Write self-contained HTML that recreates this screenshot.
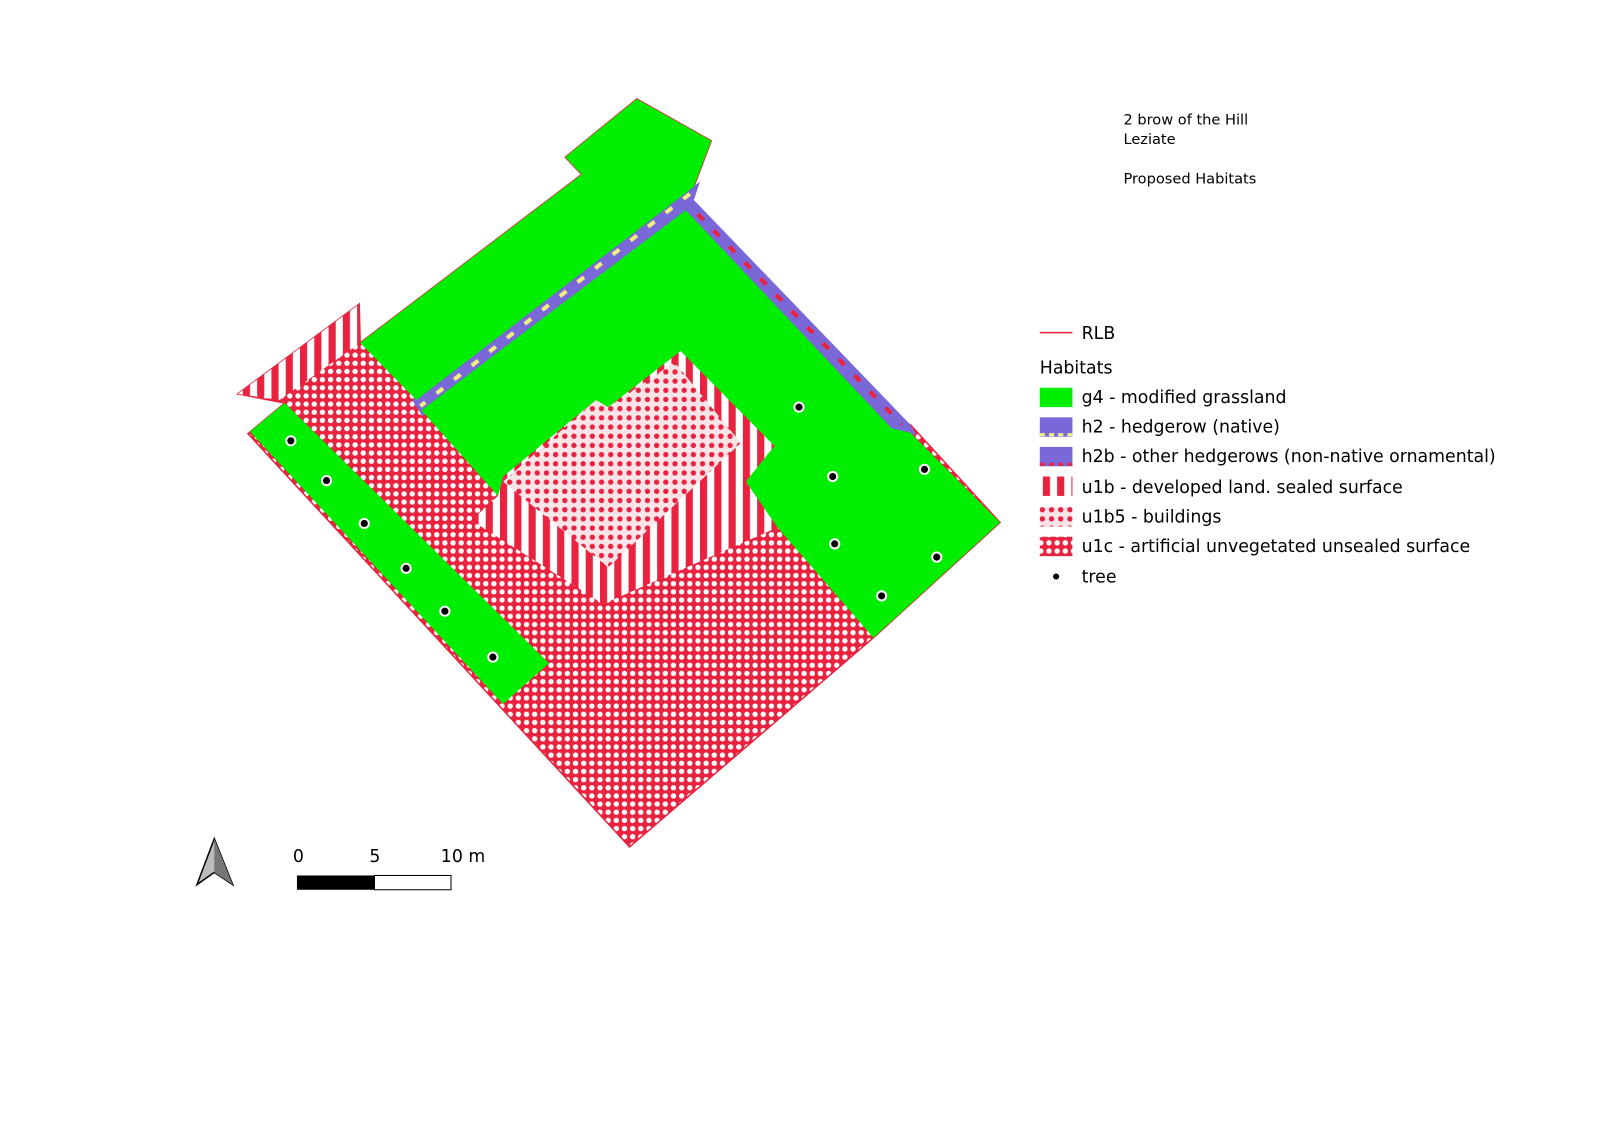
<!DOCTYPE html>
<html><head><meta charset="utf-8"><style>
body{margin:0;background:#fff;width:1600px;height:1132px;overflow:hidden;font-family:"DejaVu Sans","Liberation Sans",sans-serif}
</style></head><body>
<svg width="1600" height="1132" viewBox="0 0 1568 1109.4" preserveAspectRatio="none" xmlns="http://www.w3.org/2000/svg">
<defs>
<pattern id="u1c" width="8" height="8" patternUnits="userSpaceOnUse"><rect width="8" height="8" fill="#e8223f"/><circle cx="4" cy="4" r="2.6" fill="#fff"/></pattern>
<pattern id="u1b5" width="9" height="9" patternUnits="userSpaceOnUse"><rect width="9" height="9" fill="#fbe4e8"/><circle cx="4.5" cy="4.5" r="2.6" fill="#e8223f"/></pattern>
<pattern id="u1b" width="14" height="14" patternUnits="userSpaceOnUse"><rect width="14" height="14" fill="#fff"/><rect width="7" height="14" fill="#e8223f"/></pattern>
</defs>
<g stroke="none">
<polygon points="624,97 697,138 680,183 676,200 885,416 892,416 980,512 856,625 617,830 243,425 279,395 233,386 352,298 353,336 570,171 554,154" fill="url(#u1c)" stroke="#e8223f" stroke-width="1.5"/>
<polygon points="233,386 352,298 353,336 274,392" fill="url(#u1b)"/>
<polygon points="245,423 279,395 538,650 493,690" fill="#00ee00"/>
<polygon points="686,178 680,196 892,416 898,426 880,426 670,214 414,408 404,392" fill="#7b68d8"/>
<polygon points="624,97 697,138 680,183 408,392 353,336 570,171 554,154" fill="#00ee00"/>
<polygon points="667,344 759,437 731,472 762,517 591,592 462,510 488,486 493,467 584,392 596,399" fill="url(#u1b)"/>
<polygon points="584,392 596,399 661,355 726,434 596,556 493,472" fill="url(#u1b5)"/>
<polygon points="672,206 874,420 892,424 980,512 856,625 762,517 731,472 759,437 667,344 596,399 584,392 493,467 488,486 413,402" fill="#00ee00"/>
<line x1="676" y1="190" x2="412" y2="398" stroke="#f0f080" stroke-width="4" stroke-dasharray="8,14"/>
<line x1="684" y1="210" x2="884" y2="416" stroke="#e8223f" stroke-width="4" stroke-dasharray="8,14"/>
</g>
<g fill="#000" stroke="#fff" stroke-width="2">
<circle cx="285" cy="432" r="4.5"/><circle cx="320" cy="471" r="4.5"/><circle cx="357" cy="513" r="4.5"/><circle cx="398" cy="557" r="4.5"/><circle cx="436" cy="599" r="4.5"/><circle cx="483" cy="644" r="4.5"/>
<circle cx="783" cy="399" r="4.5"/><circle cx="816" cy="467" r="4.5"/><circle cx="906" cy="460" r="4.5"/><circle cx="818" cy="533" r="4.5"/><circle cx="918" cy="546" r="4.5"/><circle cx="864" cy="584" r="4.5"/>
</g>
<g font-size="14.3" fill="#000">
<text x="1101" y="122">2 brow of the Hill</text>
<text x="1101" y="141">Leziate</text>
<text x="1101" y="180">Proposed Habitats</text>
</g>
<line x1="1019" y1="326" x2="1051" y2="326" stroke="#e8223f" stroke-width="1.5"/>
<g font-size="17" fill="#000">
<text x="1060" y="332">RLB</text>
<text x="1019" y="366">Habitats</text>
<text x="1060" y="395">g4 - modified grassland</text>
<text x="1060" y="424">h2 - hedgerow (native)</text>
<text x="1060" y="453">h2b - other hedgerows (non-native ornamental)</text>
<text x="1060" y="483">u1b - developed land. sealed surface</text>
<text x="1060" y="512">u1b5 - buildings</text>
<text x="1060" y="541">u1c - artificial unvegetated unsealed surface</text>
<text x="1060" y="571">tree</text>
</g>
<rect x="1019" y="380" width="32" height="19" fill="#00ee00"/>
<rect x="1019" y="409" width="32" height="19" fill="#7b68d8"/>
<line x1="1019" y1="426" x2="1051" y2="426" stroke="#f0f080" stroke-width="3" stroke-dasharray="5,4"/>
<rect x="1019" y="438" width="32" height="19" fill="#7b68d8"/>
<line x1="1019" y1="455" x2="1051" y2="455" stroke="#e8223f" stroke-width="3" stroke-dasharray="5,4"/>
<rect x="1019" y="467" width="32" height="19" fill="url(#u1b)"/>
<rect x="1019" y="497" width="32" height="19" fill="url(#u1b5)"/>
<rect x="1019" y="526" width="32" height="19" fill="url(#u1c)"/>
<circle cx="1035" cy="565" r="3" fill="#000"/>
<polygon points="210,822 193,867 210,855 228,867" fill="#bbb" stroke="#000" stroke-width="1.5"/>
<polygon points="210,822 210,855 228,867" fill="#777"/>
<rect x="291" y="858" width="76" height="14" fill="#000"/>
<rect x="367" y="858" width="75" height="14" fill="#fff" stroke="#000" stroke-width="1"/>
<g font-size="17" fill="#000">
<text x="287" y="845">0</text><text x="362" y="845">5</text><text x="432" y="845">10 m</text>
</g>
</svg>
</body></html>
